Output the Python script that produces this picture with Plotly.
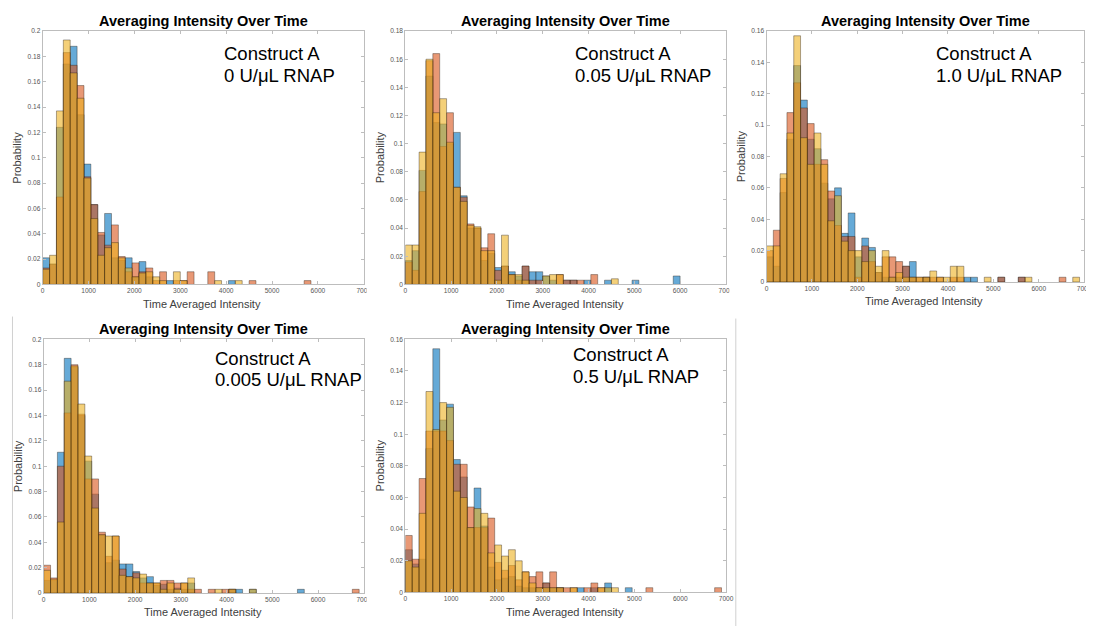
import plotly.graph_objects as go

BIN_WIDTH = 150
X_TICKS = [0, 1000, 2000, 3000, 4000, 5000, 6000, 7000]
TITLE = "Averaging Intensity Over Time"
XLABEL = "Time Averaged Intensity"
YLABEL = "Probability"
CONSTRUCT = "Construct A"
CONDITIONS = ["0 U/μL RNAP", "0.05 U/μL RNAP", "1.0 U/μL RNAP", "0.005 U/μL RNAP", "0.5 U/μL RNAP"]
Y_MAX = [0.2, 0.18, 0.16, 0.2, 0.16]

# Panel 1: 0 U/uL
B1 = [.021,.016,.124,.174,.188,.134,.095,.063,.039,.056,.021,.019,.021,.006,.018,.006,0,0,.003,0,0,0,0,0,0,0,0,.003]
R1 = [.013,.016,.069,.183,.173,.157,.085,.063,.041,.031,.047,.022,.010,.017,.010,.013,.003,.010,0,.003,.003,.010,0,0,.010,0,0,0,0,0,.003,0,0,0,0,0,0,0,.003]
Y1 = [.012,.023,.137,.193,.167,.147,.084,.052,.023,.029,.033,.021,.013,.006,.009,.010,.006,.003,0,.010,.003,0,0,0,0,.003,0,0,.003]
# Panel 2: 0.05 U/uL
B2 = [.017,.024,.081,.148,.115,.114,.100,.108,.063,.040,.040,.017,.022,.012,.013,.009,.006,.013,.009,.009,.006,.003,0,.003,.003,0,.003,0,0,.003,0,0,0,.003,0,0,0,0,0,.006]
R2 = [.016,.010,.066,.159,.164,.098,.122,.069,.062,.043,.040,.026,.036,.010,.013,.007,.003,.013,.003,.003,0,0,.007,.003,.003,.003,0,.007]
Y2 = [.028,.028,.094,.160,.122,.132,.101,.069,.059,.042,.041,.024,.024,.003,.035,.007,.007,.003,0,0,.006,.007,.007,0,0,0,0,0,0,0,.004]
# Panel 3: 1.0 U/uL
B3 = [.016,.010,.057,.091,.138,.116,.091,.085,.063,.053,.060,.031,.044,.016,.028,.022,.006,.003,.003,.003,.010,.013,0,.003,0,0,0,0,0,.003,.003,0,0,0,.003,0,0,.003]
R3 = [.020,.033,.066,.108,.127,.111,.101,.075,.078,.058,.036,.029,.029,.003,.023,.013,.006,.016,.016,.013,.010,.003,.003,.003,.003,.003,0,.003,.003,0,0,0,0,0,.003,0,0,.003,0,0,0,0,0,.003]
Y3 = [.023,.023,.069,.095,.157,.092,.075,.095,.075,.039,.055,.026,.020,.020,.013,.020,.010,.020,.003,.006,.003,.003,.003,.003,.007,.003,.003,.010,.010,0,0,0,.003,0,0,0,0,0,.003,0,0,0,0,0,0,.003]
# Panel 4: 0.005 U/uL
B4 = [.010,.010,.111,.185,.178,.140,.104,.078,.046,.024,.026,.023,.023,.017,.012,.013,.006,.007,.003,.004,.003,.008,0,0,0,0,0,.003,.003,0,.003,0,0,0,0,0,0,.003]
R4 = [.022,.012,.100,.142,.180,.141,.090,.090,.048,.029,.045,.019,.013,.016,.008,.008,.008,.010,.010,.008,.008,.003,.003,0,.003,0,.003,.003,0,0,0,0,0,0,0,0,0,0,0,0,0,0,0,0,0,.003]
Y4 = [.018,.011,.056,.167,.179,.149,.108,.067,.046,.045,.045,.014,.013,.012,.015,.008,.008,.003,.008,.003,.008,.012,0,0,0,.003,0,.003,0,0,.003]
# Panel 5: 0.5 U/uL
B5 = [.027,.018,.021,.091,.154,.109,.119,.084,.073,.041,.066,.042,.016,.008,.009,.010,.004,.003,.003,.003,.006,.003,.003,0,0,.003,0,.003,0,.006,0,0,.003]
R5 = [.036,.021,.072,.102,.102,.102,.096,.081,.081,.054,.041,.041,.047,.019,.014,.017,.008,.013,.010,.013,.006,.013,.003,.003,.003,0,.003,.006,.003,0,0,0,0,0,0,.003,0,0,0,0,0,0,0,0,0,.003]
Y5 = [.020,.016,.050,.127,.103,.120,.117,.064,.060,.041,.053,.050,.025,.030,.023,.027,.020,.013,.006,.003,.003,.003,.003,0,.003,0,0,0,.003,.003,.003]

PANELS = [(B1, R1, Y1), (B2, R2, Y2), (B3, R3, Y3), (B4, R4, Y4), (B5, R5, Y5)]
COLORS = ["rgba(0,114,189,0.6)", "rgba(217,83,25,0.6)", "rgba(237,177,32,0.6)"]

W, H = 1094, 626
OFF = 8  # the page's default body margin; positions below are window pixels


def px(x):
    return (x - OFF) / W


def py(y):
    return 1 - (y - OFF) / H


# plot boxes in window pixels: (left, right, top, bottom)
BOXES = [(41, 365, 27.3, 283.5), (407, 730.5, 27.3, 283.5), (771.5, 1092, 27.3, 281),
         (42, 365, 339, 595.7), (407, 730.7, 339, 595)]
LABEL_POS = [(222, 50, 72), (576, 50, 72), (941, 50, 72), (212.7, 358.3, 380), (574, 354.3, 376.7)]
TITLE_Y = [16.7, 16.7, 16.7, 329, 329]

FONT = "Liberation Sans, Arial, sans-serif"
fig = go.Figure()
annotations = []
for k, (series, box) in enumerate(zip(PANELS, BOXES)):
    ax = "" if k == 0 else str(k + 1)
    for vals, col in zip(series, COLORS):
        xs = [BIN_WIDTH * (i + 0.5) for i in range(len(vals))]
        ys = [v if v > 0 else None for v in vals]
        fig.add_trace(go.Bar(x=xs, y=ys, width=BIN_WIDTH, xaxis="x" + ax, yaxis="y" + ax,
                             marker=dict(color=col, line=dict(color="rgba(40,30,20,0.55)", width=0.7)),
                             showlegend=False, hoverinfo="skip"))
    l, r, t, b = box
    axstyle = dict(showline=True, mirror="ticks", linecolor="#bdbdbd", linewidth=1, ticks="inside",
                   ticklen=3, tickcolor="#bdbdbd", showgrid=False, zeroline=False,
                   tickfont=dict(family=FONT, size=6.6, color="#555555"))
    fig.layout["xaxis" + ax] = dict(domain=[px(l), px(r)], range=[0, 7000], tickvals=X_TICKS,
                                     anchor="y" + ax, **axstyle)
    ym = Y_MAX[k]
    yt = [round(0.02 * i, 2) for i in range(int(round(ym / 0.02)) + 1)]
    fig.layout["yaxis" + ax] = dict(domain=[py(b), py(t)], range=[0, ym], tickvals=yt,
                                     ticktext=[("%g" % v) for v in yt], anchor="x" + ax, **axstyle)
    cx = (l + r) / 2
    annotations.append(dict(x=px(cx), y=py(TITLE_Y[k]), xref="paper", yref="paper", text="<b>" + TITLE + "</b>",
                            showarrow=False, xanchor="center", yanchor="middle",
                            font=dict(family=FONT, size=14.5, color="#000000")))
    annotations.append(dict(x=px(cx - 1), y=py(b + 19.5), xref="paper", yref="paper", text=XLABEL,
                            showarrow=False, xanchor="center", yanchor="middle",
                            font=dict(family=FONT, size=11, color="#404040")))
    annotations.append(dict(x=px(l - 26), y=py((t + b) / 2), xref="paper", yref="paper", text=YLABEL,
                            showarrow=False, xanchor="center", yanchor="middle", textangle=-90,
                            font=dict(family=FONT, size=11, color="#404040")))
    lx, ly1, ly2 = LABEL_POS[k]
    for txt, yy in ((CONSTRUCT, ly1), (CONDITIONS[k], ly2)):
        annotations.append(dict(x=px(lx), y=py(yy), xref="paper", yref="paper", text=txt,
                                showarrow=False, xanchor="left", yanchor="middle",
                                font=dict(family=FONT, size=18.5, color="#000000")))

shapes = [
    # crop of the neighbouring images over the last tick labels
    dict(type="rect", xref="paper", yref="paper", x0=px(368), x1=px(378), y0=py(298), y1=py(285),
         fillcolor="white", line=dict(width=0), layer="above"),
    dict(type="rect", xref="paper", yref="paper", x0=px(368), x1=px(378), y0=py(610), y1=py(597),
         fillcolor="white", line=dict(width=0), layer="above"),
    dict(type="rect", xref="paper", yref="paper", x0=px(734), x1=px(745), y0=py(298), y1=py(285),
         fillcolor="white", line=dict(width=0), layer="above"),
    # thin image borders
    dict(type="line", xref="paper", yref="paper", x0=px(10.5), x1=px(10.5), y0=py(316), y1=py(622),
         line=dict(color="#d0d0d0", width=1)),
    dict(type="line", xref="paper", yref="paper", x0=px(740.5), x1=px(740.5), y0=py(318), y1=py(630),
         line=dict(color="#d0d0d0", width=1)),
]

fig.update_layout(width=W, height=H, margin=dict(l=0, r=0, t=0, b=0), barmode="overlay",
                  paper_bgcolor="white", plot_bgcolor="white", annotations=annotations, shapes=shapes,
                  bargap=0)
fig.write_html("out.html", config={"displayModeBar": False, "staticPlot": True})
